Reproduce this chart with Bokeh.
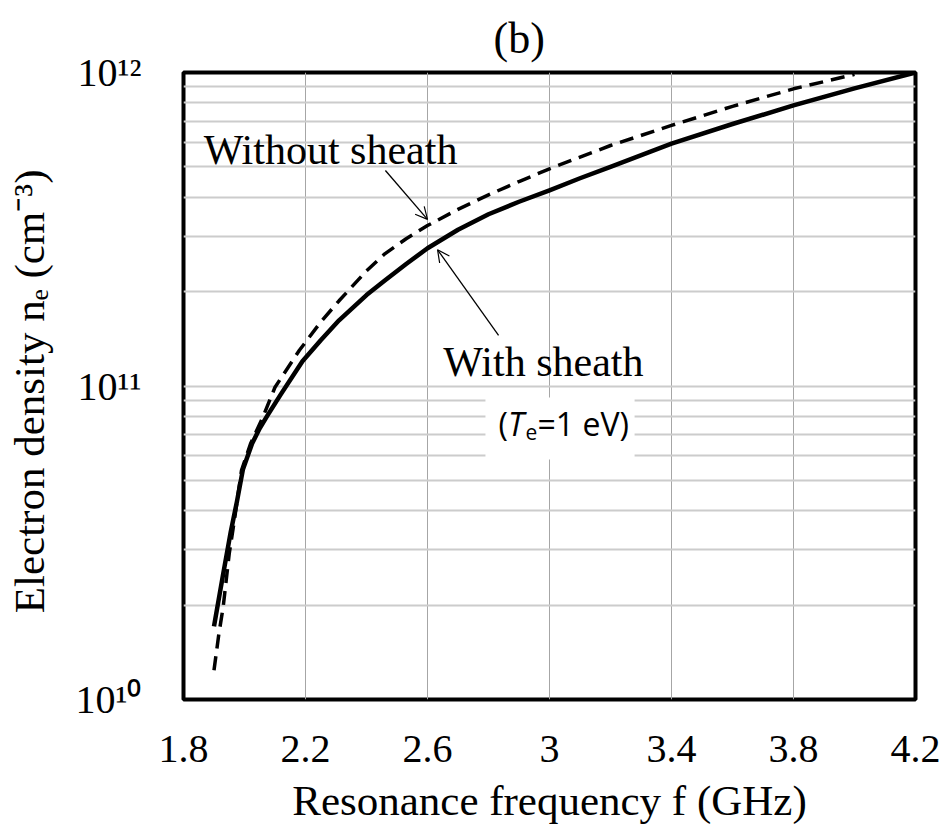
from bokeh.plotting import figure
from bokeh.models import Range1d, FixedTicker, Label, Arrow, OpenHead, BoxAnnotation
from bokeh.embed import file_html
from bokeh.resources import INLINE

# ---- data ----
f_with = [1.90, 1.93, 1.955, 1.975, 1.995, 2.025, 2.05, 2.075, 2.12, 2.19, 2.25, 2.31,
          2.40, 2.46, 2.53, 2.60, 2.70, 2.80, 2.90, 3.00, 3.10, 3.20, 3.40, 3.60,
          3.80, 4.00, 4.20]
ne_with = [1.71e10, 2.51e10, 3.43e10, 4.27e10, 5.43e10, 6.55e10, 7.33e10, 8.04e10,
           9.44e10, 1.20e11, 1.40e11, 1.62e11, 1.95e11, 2.17e11, 2.45e11, 2.75e11,
           3.15e11, 3.53e11, 3.87e11, 4.21e11, 4.60e11, 5.00e11, 5.93e11, 6.85e11,
           7.85e11, 8.90e11, 1.00e12]

f_without = [1.90, 1.916, 1.93, 1.94, 1.95, 1.965, 1.99, 2.02, 2.06, 2.10, 2.18, 2.25,
             2.31, 2.40, 2.46, 2.53, 2.60, 2.70, 2.80, 2.90, 3.00, 3.20, 3.40, 3.60,
             3.80, 4.00]
ne_without = [1.24e10, 1.62e10, 1.97e10, 2.40e10, 2.92e10, 3.63e10, 5.37e10, 6.55e10,
              7.94e10, 9.91e10, 1.30e11, 1.60e11, 1.87e11, 2.33e11, 2.64e11, 2.95e11,
              3.25e11, 3.66e11, 4.07e11, 4.49e11, 4.93e11, 5.85e11, 6.78e11, 7.80e11,
              8.87e11, 9.86e11]

x_ticks = [1.8, 2.2, 2.6, 3.0, 3.4, 3.8, 4.2]
x_tick_labels = ["1.8", "2.2", "2.6", "3", "3.4", "3.8", "4.2"]
y_ticks = [1e10, 1e11, 1e12]
y_tick_labels = ["10\u00b9\u2070", "10\u00b9\u00b9", "10\u00b9\u00b2"]

x_title = "Resonance frequency f (GHz)"
y_title = "Electron density n\u2091  (cm\u207b\u00b3)"

SERIF = "Liberation Serif"
SANS = "Open Sans"

p = figure(width=946, height=835, x_range=Range1d(1.8, 4.2), y_range=Range1d(1e10, 1e12),
           y_axis_type="log", output_backend="svg", toolbar_location=None,
           min_border_left=183, min_border_right=31, min_border_top=72, min_border_bottom=136)
p.background_fill_color = "white"
p.border_fill_color = "white"
p.outline_line_color = "black"
p.outline_line_width = 4

# title
p.title.text = "(b)"
p.title.text_font = SERIF
p.title.text_font_size = "44px"
p.title.text_font_style = "normal"
p.title.text_color = "black"
p.title.align = "left"
p.title.offset = 310
p.title.standoff = 20

# x axis
xa = p.xaxis[0]
xa.ticker = FixedTicker(ticks=x_ticks)
xa.major_label_overrides = {t: s for t, s in zip(x_ticks, x_tick_labels)}
xa.major_label_text_font = SERIF
xa.major_label_text_font_size = "40px"
xa.major_label_text_color = "black"
xa.major_label_standoff = 36
xa.major_tick_in = 0
xa.major_tick_out = 0
xa.minor_tick_in = 0
xa.minor_tick_out = 0
xa.axis_line_color = None
xa.axis_label = x_title
xa.axis_label_text_font = SERIF
xa.axis_label_text_font_size = "43px"
xa.axis_label_text_font_style = "normal"
xa.axis_label_text_color = "black"
xa.axis_label_standoff = 12

# y axis
ya = p.yaxis[0]
minor = [m * 10.0 ** e for e in (10, 11) for m in range(2, 10)]
ya.ticker = FixedTicker(ticks=y_ticks, minor_ticks=minor)
ya.major_label_overrides = {t: s for t, s in zip(y_ticks, y_tick_labels)}
ya.major_label_text_font = SERIF
ya.major_label_text_font_size = "40px"
ya.major_label_text_color = "black"
ya.major_label_standoff = 42
ya.major_tick_in = 0
ya.major_tick_out = 0
ya.minor_tick_in = 0
ya.minor_tick_out = 0
ya.axis_line_color = None
ya.axis_label = y_title
ya.axis_label_text_font = SERIF
ya.axis_label_text_font_size = "43px"
ya.axis_label_text_font_style = "normal"
ya.axis_label_text_color = "black"
ya.axis_label_standoff = 20

# grids
p.xgrid.grid_line_color = "#a6a6a6"
p.xgrid.grid_line_width = 1
p.ygrid.grid_line_color = "#cccccc"
p.ygrid.grid_line_width = 2
p.ygrid.minor_grid_line_color = "#cccccc"
p.ygrid.minor_grid_line_width = 2

# curves
p.line(f_with, ne_with, line_color="black", line_width=4.5, line_join="round")
p.line(f_without, ne_without, line_color="black", line_width=3.5, line_dash="14 8")

# annotations
p.add_layout(Label(x=1.866, y=5.64e11, text="Without sheath", text_font=SERIF, text_font_size="42px",
                   text_color="black", text_align="left", text_baseline="alphabetic"))
p.add_layout(Arrow(end=OpenHead(size=12, line_width=1.2, line_color="black"),
                   x_start=2.462, y_start=4.87e11, x_end=2.600, y_end=3.40e11,
                   line_width=1.3, line_color="black"))
p.add_layout(Label(x=2.652, y=1.197e11, text="With sheath", text_font=SERIF, text_font_size="42px",
                   text_color="black", text_align="left", text_baseline="alphabetic"))
p.add_layout(Arrow(end=OpenHead(size=12, line_width=1.2, line_color="black"),
                   x_start=2.833, y_start=1.45e11, x_end=2.633, y_end=2.72e11,
                   line_width=1.3, line_color="black"))

# (Te=1 eV) with white box
p.add_layout(BoxAnnotation(left=2.790, right=3.279, bottom=5.83e10, top=9.19e10,
                           fill_color="white", fill_alpha=1.0, line_color=None))
te = [("(", 0, 0, "normal", "32px"),
      ("T", 9.5, 0, "italic", "32px"),
      ("e", 27, -8, "normal", "21px"),
      ("=1 eV)", 39, 0, "normal", "32px")]
for txt, xo, yo, st, fs in te:
    p.add_layout(Label(x=2.833, y=7.59e10, x_offset=xo, y_offset=yo, text=txt, text_font=SANS,
                       text_font_size=fs, text_font_style=st, text_color="black",
                       text_align="left", text_baseline="alphabetic"))

open("out.html", "w").write(file_html(p, INLINE))
